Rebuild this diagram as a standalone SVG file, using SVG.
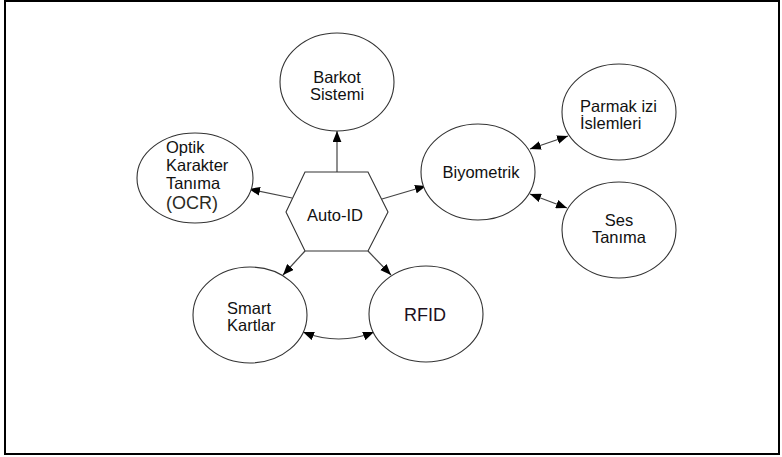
<svg xmlns="http://www.w3.org/2000/svg" width="782" height="457" viewBox="0 0 782 457">
  <defs>
    <style>
      .node { fill: #ffffff; stroke: #333333; stroke-width: 1.1; }
      .lbl { font-family: "Liberation Sans", Arial, sans-serif; font-size: 16.5px; fill: #111111; }
      .conn { fill: none; stroke: #444444; stroke-width: 1.2; }
    </style>
    <marker id="arr" viewBox="0 0 10 8" refX="10" refY="4" markerWidth="11" markerHeight="9" markerUnits="userSpaceOnUse" orient="auto-start-reverse">
      <path d="M0,0 L10,4 L0,8 z" fill="#000000"/>
    </marker>
  </defs>
  <rect x="0" y="0" width="782" height="457" fill="#ffffff"/>
  <rect x="5" y="1" width="774" height="453" fill="none" stroke="#000000" stroke-width="2"/>

  <g id="connectors">
    <path class="conn" d="M337,172 L337,131" marker-end="url(#arr)"/>
    <path class="conn" d="M292,198 L249,189" marker-end="url(#arr)"/>
    <path class="conn" d="M382,199 L426,186" marker-end="url(#arr)"/>
    <path class="conn" d="M305,251 L283,275" marker-end="url(#arr)"/>
    <path class="conn" d="M368,251 L391,275" marker-end="url(#arr)"/>
    <path class="conn" d="M530,149 L568,136" marker-start="url(#arr)" marker-end="url(#arr)"/>
    <path class="conn" d="M530,194 L567,208" marker-start="url(#arr)" marker-end="url(#arr)"/>
    <path class="conn" d="M303,332 Q339,346 374,332" marker-start="url(#arr)" marker-end="url(#arr)"/>
  </g>

  <g id="barkot">
    <ellipse class="node" cx="337" cy="82" rx="57" ry="49"/>
    <text class="lbl" x="337" y="83" text-anchor="middle">Barkot</text>
    <text class="lbl" x="337" y="100" text-anchor="middle">Sistemi</text>
  </g>

  <g id="ocr">
    <ellipse class="node" cx="195" cy="178" rx="58" ry="45"/>
    <text class="lbl" x="166" y="153">Optik</text>
    <text class="lbl" x="166" y="171">Karakter</text>
    <text class="lbl" x="166" y="189">Tanıma</text>
    <text class="lbl" style="font-size:18px;fill:#2b2b1e" x="166" y="209">(OCR)</text>
  </g>

  <g id="autoid">
    <polygon class="node" points="305,172 368,172 388,212 368,251 305,251 286,212"/>
    <text class="lbl" x="335" y="221" text-anchor="middle">Auto-ID</text>
  </g>

  <g id="biyometrik">
    <ellipse class="node" cx="478" cy="172" rx="57" ry="48"/>
    <text class="lbl" x="481" y="178" text-anchor="middle">Biyometrik</text>
  </g>

  <g id="parmak">
    <ellipse class="node" cx="619" cy="112" rx="57" ry="48"/>
    <text class="lbl" x="580" y="112">Parmak izi</text>
    <text class="lbl" x="580" y="129">İslemleri</text>
  </g>

  <g id="ses">
    <ellipse class="node" cx="619" cy="230" rx="57" ry="48"/>
    <text class="lbl" x="619" y="226" text-anchor="middle">Ses</text>
    <text class="lbl" x="619" y="243" text-anchor="middle">Tanıma</text>
  </g>

  <g id="smart">
    <ellipse class="node" cx="250" cy="315" rx="57" ry="48"/>
    <text class="lbl" x="227" y="314">Smart</text>
    <text class="lbl" x="227" y="331">Kartlar</text>
  </g>

  <g id="rfid">
    <ellipse class="node" cx="426" cy="314" rx="57" ry="48"/>
    <text class="lbl" style="font-size:18px;fill:#1c1020" x="425" y="321" text-anchor="middle">RFID</text>
  </g>
</svg>
